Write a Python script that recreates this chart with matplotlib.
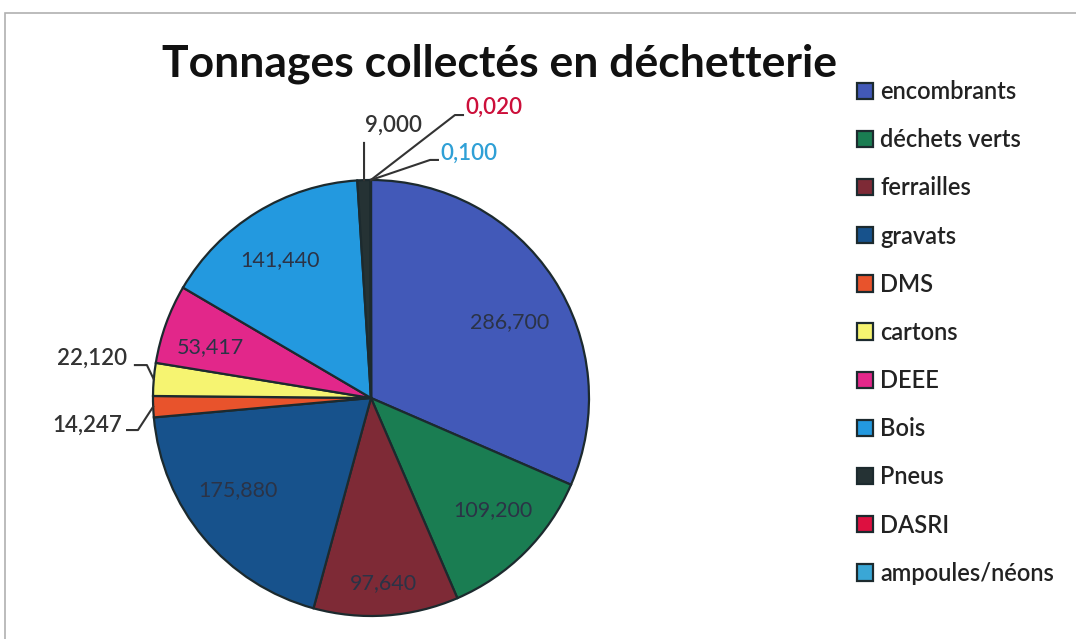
import numpy as np
import matplotlib
matplotlib.use("Agg")
import matplotlib.pyplot as plt
from matplotlib.patches import Rectangle

plt.rcParams['font.family'] = ['Lato', 'DejaVu Sans']

# data
categories = ['encombrants', 'déchets verts', 'ferrailles', 'gravats', 'DMS', 'cartons',
              'DEEE', 'Bois', 'Pneus', 'DASRI', 'ampoules/néons']
tonnages = [286.700, 109.200, 97.640, 175.880, 14.247, 22.120,
            53.417, 141.440, 9.000, 0.020, 0.100]
labels = ['286,700', '109,200', '97,640', '175,880', '14,247', '22,120',
          '53,417', '141,440', '9,000', '0,020', '0,100']

colors = ['#4259b8', '#1a7d52', '#7e2a36', '#17528c', '#e8532c', '#f6f471',
          '#e2278a', '#2399df', '#253234', '#dd1040', '#3aa7d6']

# label layout (pie units, radius = 1)
inside_pos = {0: (0.638, 0.349), 1: (0.557, -0.514), 2: (0.055, -0.849),
              3: (-0.61, -0.422), 6: (-0.735, 0.234), 7: (-0.417, 0.633)}
# idx: (text xy, ha, color, elbow, end)
outside = {
    5: ((-1.119, 0.183), 'right', '#333333', (-1.028, 0.151), (-1.083, 0.151)),
    4: ((-1.142, -0.124), 'right', '#333333', (-1.069, -0.147), (-1.119, -0.147)),
    8: ((0.101, 1.252), 'center', '#333333', (-0.032, 1.17), (-0.032, 1.17)),
    9: ((0.431, 1.335), 'left', '#cc0f3a', (0.385, 1.298), (0.422, 1.298)),
    10: ((0.317, 1.124), 'left', '#2fa0d6', (0.271, 1.092), (0.307, 1.092)),
}

W, H = 1076, 639
fig = plt.figure(figsize=(W / 100, H / 100), dpi=100)
fig.patch.set_facecolor('white')

# pie axes: center at pixel (371, 398 from top), radius 218 px
s = 218.0
cx, cy = 371.0, H - 398.0
ax = fig.add_axes([0, 0, 742 / W, 1])
wedges, _ = ax.pie(tonnages, colors=colors, startangle=90, counterclock=False,
                   wedgeprops=dict(edgecolor='#1c2a2e', linewidth=1.6))
ax.set_xlim(-cx / s, (742 - cx) / s)
ax.set_ylim(-cy / s, (H - cy) / s)
ax.set_aspect('auto')
ax.axis('off')

for i, (x, y) in inside_pos.items():
    ax.text(x, y, labels[i], ha='center', va='center', fontsize=15.5, color='#2b3346')

for i, (txy, ha, col, elbow, end) in outside.items():
    w = wedges[i]
    ang = np.deg2rad((w.theta1 + w.theta2) / 2)
    anchor = (np.cos(ang), np.sin(ang))
    ax.plot([anchor[0], elbow[0], end[0]], [anchor[1], elbow[1], end[1]],
            color='#333333', lw=1.5, clip_on=False)
    ax.text(txy[0], txy[1], labels[i], ha=ha, va='center', fontsize=16,
            fontweight='semibold', color=col)

fig.text(500 / W, 1 - 64 / H, 'Tonnages collectés en déchetterie', ha='center', va='center',
         fontsize=32, fontweight='bold', color='#111111')

leg = fig.legend(wedges, categories, loc='upper left', bbox_to_anchor=(857 / W, 1 - 80 / H),
                 frameon=False, handlelength=0.68, handleheight=0.68,
                 handletextpad=0.3, labelspacing=1.066, borderaxespad=0, borderpad=0,
                 prop=dict(size=17, weight='semibold'))
for t in leg.get_texts():
    t.set_color('#222222')

# thin grey border at top and left
fig.add_artist(Rectangle((5 / W, -0.05), 1.2, 1 - 13 / H + 0.05, transform=fig.transFigure,
                         fill=False, edgecolor='#b0b0b0', lw=1.2))

fig.savefig('out.png', dpi=100)
